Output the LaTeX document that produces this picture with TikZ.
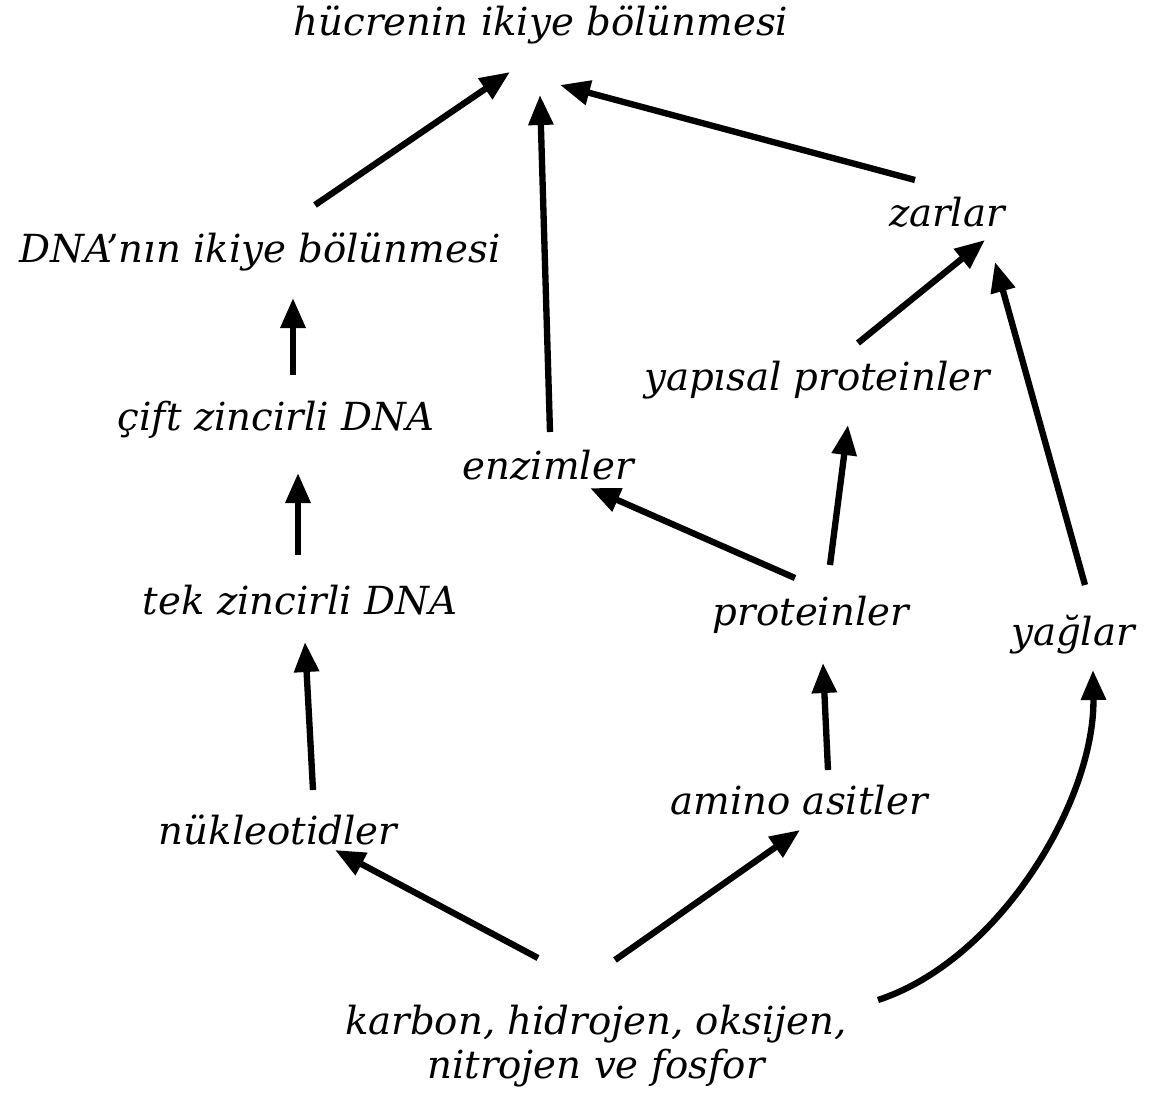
\documentclass[tikz,border=0pt]{standalone}
\usepackage{fontspec}
\newfontfamily\labelfont{DejaVu Serif}
\usetikzlibrary{arrows.meta}

\begin{document}
\begin{tikzpicture}[x=0.01cm,y=-0.01cm,
    lbl/.style={font=\fontsize{11}{12.5}\labelfont\itshape,inner sep=0pt},
    arr/.style={line width=1.8pt,-{Triangle[length=0.3cm,width=0.24cm]}}]
  \useasboundingbox (0,0) rectangle (1159,1094);
  % labels
  \node[lbl] (cell) at (541,25) {hücrenin ikiye bölünmesi};
  \node[lbl] (dnadiv) at (260,252) {DNA’nın ikiye bölünmesi};
  \node[lbl] (zar) at (947,212) {zarlar};
  \node[lbl] (yapi) at (817,380) {yapısal proteinler};
  \node[lbl] (cift) at (276,420) {çift zincirli DNA};
  \node[lbl] (enz) at (548,465) {enzimler};
  \node[lbl] (tek) at (300,600) {tek zincirli DNA};
  \node[lbl] (prot) at (811,615) {proteinler};
  \node[lbl] (yag) at (1073,635) {yağlar};
  \node[lbl] (amino) at (799,800) {amino asitler};
  \node[lbl] (nuk) at (278,830) {nükleotidler};
  \node[lbl,align=center] (chon) at (596,1046) {karbon, hidrojen, oksijen,\\nitrojen ve fosfor};
  % arrows
  \draw[arr] ([shift={(55,-47)}]dnadiv.center) -- ([shift={(-31,47)}]cell.center);
  \draw[arr] ([shift={(2,-33)}]enz.center) -- ([shift={(-1,70)}]cell.center);
  \draw[arr] ([shift={(-32,-32)}]zar.center) -- ([shift={(19,60)}]cell.center);
  \draw[arr] ([shift={(41,-37)}]yapi.center) -- ([shift={(38,28)}]zar.center);
  \draw[arr] ([shift={(12,-50)}]yag.center) -- ([shift={(48,50)}]zar.center);
  \draw[arr] ([shift={(17,-45)}]cift.center) -- ([shift={(33,46)}]dnadiv.center);
  \draw[arr] ([shift={(-2,-45)}]tek.center) -- ([shift={(22,53)}]cift.center);
  \draw[arr] ([shift={(35,-40)}]nuk.center) -- ([shift={(5,42)}]tek.center);
  \draw[arr] ([shift={(-16,-37)}]prot.center) -- ([shift={(42,23)}]enz.center);
  \draw[arr] ([shift={(19,-50)}]prot.center) -- ([shift={(31,45)}]yapi.center);
  \draw[arr] ([shift={(29,-30)}]amino.center) -- ([shift={(12,48)}]prot.center);
  \draw[arr] ([shift={(-58,-88)}]chon.center) -- ([shift={(57,20)}]nuk.center);
  \draw[arr] ([shift={(19,-86)}]chon.center) -- ([shift={(1,30)}]amino.center);
  \draw[arr] ([shift={(282,-46)}]chon.center) .. controls (1000,960) and (1095,800) .. ([shift={(20,35)}]yag.center);
\end{tikzpicture}
\end{document}
